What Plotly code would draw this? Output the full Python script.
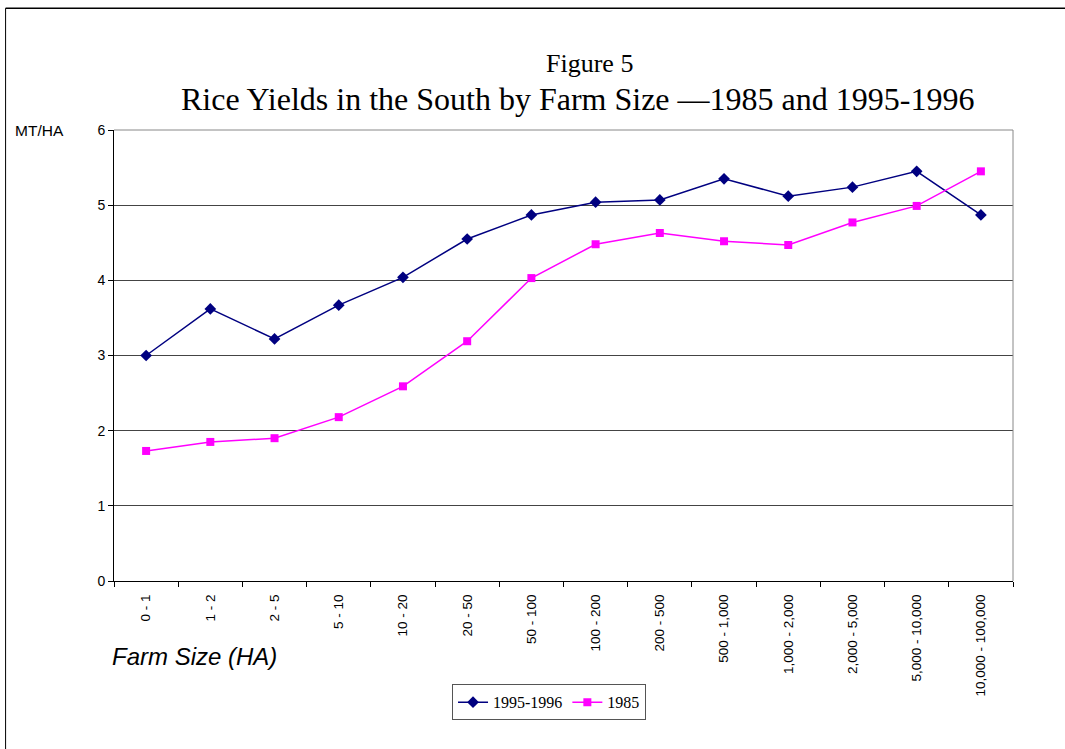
import plotly.graph_objects as go

farm_sizes = ["0 - 1", "1 - 2", "2 - 5", "5 - 10", "10 - 20", "20 - 50", "50 - 100",
              "100 - 200", "200 - 500", "500 - 1,000", "1,000 - 2,000", "2,000 - 5,000",
              "5,000 - 10,000", "10,000 - 100,000"]
yield_9596 = [3.00, 3.62, 3.22, 3.67, 4.04, 4.55, 4.87, 5.04, 5.07, 5.35, 5.12, 5.24, 5.45, 4.87]
yield_1985 = [1.73, 1.85, 1.90, 2.18, 2.59, 3.19, 4.03, 4.48, 4.63, 4.52, 4.47, 4.77, 4.99, 5.45]

fig = go.Figure()
fig.add_trace(go.Scatter(x=farm_sizes, y=yield_9596, name="1995-1996", mode="lines+markers",
                         line=dict(color="#000080", width=1.5),
                         marker=dict(symbol="diamond", size=9, color="#000080")))
fig.add_trace(go.Scatter(x=farm_sizes, y=yield_1985, name="1985", mode="lines+markers",
                         line=dict(color="#FF00FF", width=1.5),
                         marker=dict(symbol="square", size=8, color="#FF00FF")))

fig.update_xaxes(tickangle=-90, tickson="boundaries", ticks="outside", ticklen=5,
                 tickcolor="black", showline=True, linecolor="black", linewidth=1,
                 showgrid=False, tickfont=dict(family="Arial", size=13.5, color="black"),
                 ticklabelstandoff=7, range=[-0.5, 13.5])
fig.update_yaxes(range=[0, 6], dtick=1, ticks="outside", ticklen=5, tickcolor="black",
                 showline=True, linecolor="black", linewidth=1, mirror=False,
                 showgrid=True, gridcolor="#444444", gridwidth=1, zeroline=False,
                 tickfont=dict(family="Arial", size=14, color="black"))

# right and top edges of plot area
fig.add_shape(type="line", xref="paper", yref="paper", x0=1, x1=1, y0=0, y1=1,
              line=dict(color="#888888", width=1))
fig.add_shape(type="line", xref="paper", yref="paper", x0=0, x1=1, y0=1, y1=1,
              line=dict(color="#888888", width=1))

# outer frame (top and left)
fig.add_shape(type="line", xref="paper", yref="paper", x0=-0.1206, x1=1.06, y0=1.27, y1=1.27,
              line=dict(color="black", width=1.5))
fig.add_shape(type="line", xref="paper", yref="paper", x0=-0.1206, x1=-0.1206, y0=1.27, y1=-0.4,
              line=dict(color="black", width=1))

fig.add_annotation(text="Figure 5", xref="paper", yref="paper", x=0.529, y=1.148,
                   yanchor="middle", showarrow=False,
                   font=dict(family="Liberation Serif", size=26, color="black"))
fig.add_annotation(text="Rice Yields in the South by Farm Size \u20141985 and 1995-1996",
                   xref="paper", yref="paper", x=0.516, y=1.068, yanchor="middle",
                   showarrow=False, font=dict(family="Liberation Serif", size=32, color="black"))
fig.add_annotation(text="MT/HA", xref="paper", yref="paper", x=-0.112, y=1.0, xanchor="left",
                   yanchor="middle", showarrow=False,
                   font=dict(family="Arial", size=15.5, color="black"))
fig.add_annotation(text="<i>Farm Size (HA)</i>", xref="paper", yref="paper", x=-0.004, y=-0.168,
                   xanchor="left", yanchor="middle", showarrow=False,
                   font=dict(family="Arial", size=24, color="black"))

fig.update_layout(
    width=1065, height=749,
    margin=dict(l=114, r=52, t=130, b=168),
    plot_bgcolor="white", paper_bgcolor="white",
    showlegend=True,
    legend=dict(orientation="h", x=0.376, y=-0.229, xanchor="left", yanchor="top",
                bordercolor="#555555", borderwidth=1, bgcolor="white",
                font=dict(family="Liberation Serif", size=16, color="black"),
                itemwidth=30, tracegroupgap=0),
)

fig.write_html("out.html", config={"displayModeBar": False},
               post_script="document.body.style.margin='0';")
